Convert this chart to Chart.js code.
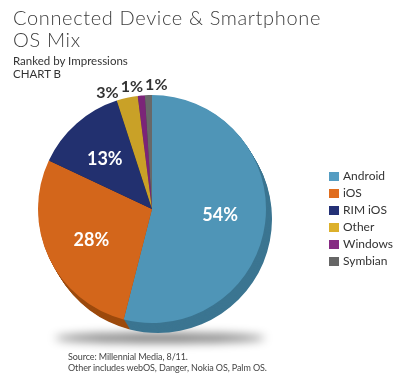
<!DOCTYPE html>
<html>
<head>
<meta charset="utf-8">
<script src="https://cdn.jsdelivr.net/npm/chart.js@4.4.0/dist/chart.umd.min.js"></script>
<style>
    html, body { margin: 0; padding: 0; background: #fff; }
    #wrap { position: relative; width: 394px; height: 374px; overflow: hidden; font-family: Lato, "Open Sans", sans-serif; }
    #chartBox { position: absolute; left: 0; top: 0; width: 394px; height: 374px; }
    .title { position: absolute; left: 13px; font-size: 20px; font-weight: 300; letter-spacing: 0.65px; color: #3d3d3d; line-height: 22px; white-space: nowrap; }
    .sub { position: absolute; left: 13px; font-size: 11.5px; color: #333; line-height: 13px; white-space: nowrap; }
    .src { position: absolute; left: 68px; font-size: 9px; letter-spacing: -0.1px; color: #444; line-height: 11px; white-space: nowrap; }
    #legend { position: absolute; left: 329px; top: 172px; }
    .item { position: relative; height: 17px; font-size: 12px; color: #333; white-space: nowrap; }
    .item span.box { position: absolute; left: 0; top: 0; width: 10px; height: 9px; }
    .item span.txt { position: absolute; left: 14px; top: -3px; line-height: 14px; }
</style>
</head>
<body>
<div id="wrap">
    <div id="chartBox"><canvas id="pieChart"></canvas></div>
    <div class="title" style="top:6px">Connected Device &amp; Smartphone</div>
    <div class="title" style="top:28px">OS Mix</div>
    <div class="sub" style="top:54px">Ranked by Impressions</div>
    <div class="sub" style="top:67px">CHART B</div>
    <div class="src" style="top:351px">Source: Millennial Media, 8/11.</div>
    <div class="src" style="top:362px">Other includes webOS, Danger, Nokia OS, Palm OS.</div>
    <div id="legend"></div>
</div>
<script>
const osLabels = ['Android', 'iOS', 'RIM iOS', 'Other', 'Windows', 'Symbian'];
const osShares = [54, 28, 13, 3, 1, 1];
const faceColors = ['#4f95b7', '#d3661b', '#22306f', '#c9a127', '#7b2478', '#686868'];
const sideColors = ['#3b7591', '#9c4a0d', '#151e49', '#8c701a', '#541852', '#474747'];
const legendColors = ['#559dc2', '#e06d1e', '#243176', '#dcb02b', '#862a83', '#666666'];

// Legend built from the same arrays
function renderLegend() {
    const legendDiv = document.getElementById('legend');
    legendDiv.innerHTML = '';
    osLabels.forEach((label, i) => {
        legendDiv.innerHTML += `<div class="item"><span class="box" style="background:${legendColors[i]}"></span><span class="txt">${label}</span></div>`;
    });
}

// Fake 3D depth + floor shadow, drawn under the slices
const depthPlugin = {
    id: 'depth',
    beforeDatasetsDraw(chart) {
        const ctx = chart.ctx;
        const arcs = chart.getDatasetMeta(0).data;
        if (!arcs.length) return;
        const cx = arcs[0].x, cy = arcs[0].y, r = arcs[0].outerRadius;

        ctx.save();
        ctx.filter = 'blur(5px)';
        ctx.fillStyle = 'rgba(0,0,0,0.5)';
        ctx.beginPath();
        ctx.ellipse(cx + 8, cy + r + 15, r * 0.92, 5, 0, 0, Math.PI * 2);
        ctx.fill();
        ctx.restore();

        const dx = 6, dy = 10, steps = 10;
        ctx.save();
        for (let k = steps; k >= 1; k--) {
            const ox = dx * k / steps, oy = dy * k / steps;
            arcs.forEach((arc, i) => {
                ctx.fillStyle = sideColors[i];
                ctx.beginPath();
                ctx.moveTo(arc.x + ox, arc.y + oy);
                ctx.arc(arc.x + ox, arc.y + oy, arc.outerRadius, arc.startAngle, arc.endAngle);
                ctx.closePath();
                ctx.fill();
            });
        }
        ctx.restore();
    }
};

// Percentage labels: big slices inside, small slices above the pie
const labelPlugin = {
    id: 'pctLabels',
    afterDatasetsDraw(chart) {
        const ctx = chart.ctx;
        const arcs = chart.getDatasetMeta(0).data;
        ctx.save();
        ctx.textBaseline = 'middle';
        ctx.textAlign = 'center';
        ctx.font = 'bold 18px Lato, "Open Sans", sans-serif';
        ctx.fillStyle = '#fff';
        arcs.forEach((arc, i) => {
            if (osShares[i] < 10) return;
            const mid = (arc.startAngle + arc.endAngle) / 2 - 0.04;
            const rr = arc.outerRadius * 0.6;
            ctx.fillText(osShares[i] + '%', arc.x + Math.cos(mid) * rr, arc.y + Math.sin(mid) * rr);
        });

        // outside labels, walked right to left so they don't overlap,
        // each one sitting on a ring just outside the pie
        ctx.font = 'bold 16px Lato, "Open Sans", sans-serif';
        ctx.fillStyle = '#333';
        ctx.textAlign = 'left';
        let lastLeft = null;
        for (let i = arcs.length - 1; i >= 0; i--) {
            if (osShares[i] >= 10) continue;
            const arc = arcs[i];
            const mid = (arc.startAngle + arc.endAngle) / 2;
            const rr = arc.outerRadius + 10;
            const text = osShares[i] + '%';
            const w = ctx.measureText(text).width;
            let left = arc.x + Math.cos(mid) * rr - 3;
            if (lastLeft !== null && left + w > lastLeft - 2) left = lastLeft - 2 - w;
            const off = left + w / 2 - arc.x;
            const y = arc.y - Math.sqrt(Math.max(rr * rr - off * off, 0));
            ctx.fillText(text, left, y);
            lastLeft = left;
        }
        ctx.restore();
    }
};

function drawChart() {
    const ctx = document.getElementById('pieChart').getContext('2d');
    new Chart(ctx, {
        type: 'pie',
        data: {
            labels: osLabels,
            datasets: [{
                data: osShares,
                backgroundColor: faceColors,
                borderWidth: 0
            }]
        },
        options: {
            responsive: true,
            maintainAspectRatio: false,
            animation: false,
            layout: { padding: { left: 38, right: 128, top: 95, bottom: 51 } },
            plugins: {
                legend: { display: false },
                tooltip: { enabled: false }
            }
        },
        plugins: [depthPlugin, labelPlugin]
    });
}

document.addEventListener('DOMContentLoaded', () => {
    renderLegend();
    drawChart();
});
</script>
</body>
</html>
